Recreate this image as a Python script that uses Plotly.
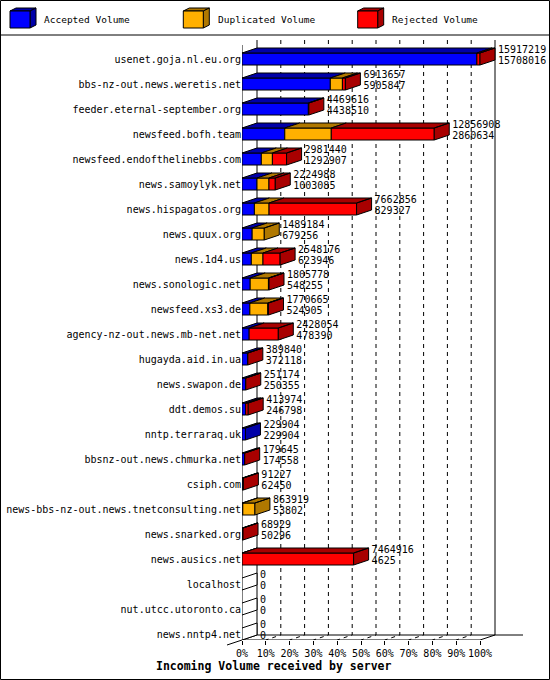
import plotly.graph_objects as go

# ---------------- data ----------------
servers = [
    "usenet.goja.nl.eu.org", "bbs-nz-out.news.weretis.net", "feeder.eternal-september.org",
    "newsfeed.bofh.team", "newsfeed.endofthelinebbs.com", "news.samoylyk.net",
    "news.hispagatos.org", "news.quux.org", "news.1d4.us", "news.sonologic.net",
    "newsfeed.xs3.de", "agency-nz-out.news.mb-net.net", "hugayda.aid.in.ua",
    "news.swapon.de", "ddt.demos.su", "nntp.terraraq.uk", "bbsnz-out.news.chmurka.net",
    "csiph.com", "news-bbs-nz-out.news.tnetconsulting.net", "news.snarked.org",
    "news.ausics.net", "localhost", "nut.utcc.utoronto.ca", "news.nntp4.net",
]
total_volume = [15917219, 6913657, 4469616, 12856908, 2981440, 2224988, 7662856, 1489184,
                2548176, 1805778, 1770665, 2428054, 389840, 251174, 413974, 229904,
                179645, 91227, 863919, 68929, 7464916, 0, 0, 0]
accepted_volume = [15708016, 5905847, 4438510, 2860634, 1292907, 1003085, 829327, 679256,
                   623946, 548255, 524905, 478390, 372118, 250355, 246798, 229904,
                   174558, 62450, 53802, 50296, 4625, 0, 0, 0]
duplicated_volume = [0, 810000, 0, 3110000, 740000, 800000, 980000, 809928,
                     780000, 1220000, 1200000, 0, 0, 0, 0, 0,
                     0, 0, 810117, 0, 0, 0, 0, 0]
rejected_volume = [209203, 197810, 31106, 6886274, 948533, 421903, 5853529, 0,
                   1144230, 37523, 45760, 1949664, 17722, 819, 167176, 0,
                   5087, 28777, 0, 18633, 7460291, 0, 0, 0]
pct_ticks = [0, 10, 20, 30, 40, 50, 60, 70, 80, 90, 100]
pct_labels = ["0%", "10%", "20%", "30%", "40%", "50%", "60%", "70%", "80%", "90%", "100%"]
series_names = ["Accepted Volume", "Duplicated Volume", "Rejected Volume"]

# ---------------- styling / geometry ----------------
W, H = 550, 680
L, R, T, B = 242, 5, 38, 40
PW, PH = W - L - R, H - T - B
PX_PER_PCT = 2.38
XMAX = PW / PX_PER_PCT
ROW_PX, ROW0 = 25, 59
Y_TOP = (T - ROW0) / ROW_PX
Y_BOT = (H - B - ROW0) / ROW_PX
DX = 15 / PX_PER_PCT
DY = 5 / ROW_PX
HALF = 6 / ROW_PX
GAP = 3 / PX_PER_PCT

FRONT = ["#0000FF", "#FFB000", "#FF0000"]
DARK = ["#0000A8", "#B07800", "#A80000"]
MONO = "DejaVu Sans Mono"


def yi(p):
    return (p - ROW0) / ROW_PX


def xi(p):
    return (p - L) / PX_PER_PCT


def px(xp):
    return (xp - L) / PW


def py(yp):
    return 1 - (yp - T) / PH


maxv = max(total_volume)
seg_vals = [accepted_volume, duplicated_volume, rejected_volume]
idx = list(range(len(servers)))

fig = go.Figure()

# front faces (bars)
bases = [0.0] * len(servers)
seg_ranges = []
for k, vals in enumerate(seg_vals):
    xs, bs, rng = [], [], []
    for i, v in enumerate(vals):
        p = v / maxv * 100
        xs.append(p if v > 0 else None)
        bs.append(bases[i])
        rng.append((bases[i], bases[i] + p, v > 0))
        bases[i] += p
    seg_ranges.append(rng)
    fig.add_trace(go.Bar(
        y=idx, x=xs, base=bs, orientation="h", width=2 * HALF,
        marker=dict(color=FRONT[k], line=dict(color="black", width=1)),
        name=series_names[k], showlegend=False, hoverinfo="skip",
    ))

# top and side faces (3D depth)
for k in range(3):
    px_, py_ = [], []
    for i in idx:
        x0, x1, on = seg_ranges[k][i]
        if not on:
            continue
        yt = i - HALF
        px_ += [x0, x1, x1 + DX, x0 + DX, x0, None]
        py_ += [yt, yt, yt - DY, yt - DY, yt, None]
    for i in idx:
        last = None
        for kk in range(3):
            if seg_ranges[kk][i][2]:
                last = kk
        if last != k:
            continue
        xe = seg_ranges[k][i][1]
        yt, yb = i - HALF, i + HALF
        px_ += [xe, xe + DX, xe + DX, xe, xe, None]
        py_ += [yt, yt - DY, yb - DY, yb, yt, None]
    fig.add_trace(go.Scatter(
        x=px_, y=py_, mode="lines", fill="toself", fillcolor=DARK[k],
        line=dict(color="black", width=1), showlegend=False, hoverinfo="skip",
    ))

# empty rows: degenerate depth face
zx, zy = [], []
for i in idx:
    if total_volume[i] == 0:
        yt, yb = i - HALF, i + HALF
        zx += [0, DX, DX, 0, 0, None]
        zy += [yt, yt - DY, yb - DY, yb, yt, None]
fig.add_trace(go.Scatter(x=zx, y=zy, mode="lines", fill="toself", fillcolor="white",
                         line=dict(color="black", width=1), showlegend=False, hoverinfo="skip"))

# value labels
label_x = [t / maxv * 100 + DX + GAP for t in total_volume]
fig.add_trace(go.Scatter(
    x=label_x, y=[i - 0.36 for i in idx],
    text=[str(t) for t in total_volume], mode="text", textposition="middle right",
    textfont=dict(family=MONO, size=10, color="black"), cliponaxis=False,
    showlegend=False, hoverinfo="skip"))
fig.add_trace(go.Scatter(
    x=label_x, y=[i + 0.08 for i in idx],
    text=[str(a) for a in accepted_volume], mode="text", textposition="middle right",
    textfont=dict(family=MONO, size=10, color="black"), cliponaxis=False,
    showlegend=False, hoverinfo="skip"))

shapes = []
y_back_top = yi(40)
y_front_top = yi(45)
y_back_floor = yi(635)
y_front_floor = yi(640)
for t in pct_ticks:
    solid = t in (0, 100)
    shapes.append(dict(
        type="path", xref="x", yref="y", layer="below",
        path=f"M {t + DX},{y_back_top} L {t + DX},{y_back_floor} L {t},{y_front_floor}",
        line=dict(color="black", width=1, dash="solid" if solid else "4px,4px"),
    ))
shapes.append(dict(type="line", xref="x", yref="y", layer="below", x0=0, x1=0,
                   y0=y_front_top, y1=y_front_floor, line=dict(color="black", width=1)))
shapes.append(dict(type="line", xref="x", yref="y", layer="below", x0=0, x1=100,
                   y0=y_front_floor, y1=y_front_floor, line=dict(color="black", width=1)))
shapes.append(dict(type="line", xref="x", yref="y", layer="below", x0=DX, x1=xi(523),
                   y0=y_back_floor, y1=y_back_floor, line=dict(color="black", width=1)))
shapes.append(dict(type="line", xref="paper", yref="paper", layer="below",
                   x0=px(227), x1=px(242), y0=py(645), y1=py(640),
                   line=dict(color="black", width=1)))

# legend cubes
for k, x0 in enumerate([10, 183.3, 357.7]):
    fx0, fx1, fy0, fy1 = x0, x0 + 20, 11, 28
    d, e = 6, 3
    shapes.append(dict(type="path", xref="paper", yref="paper",
                       path=f"M {px(fx0)},{py(fy0)} L {px(fx0 + d)},{py(fy0 - e)} L {px(fx1 + d)},{py(fy0 - e)} L {px(fx1)},{py(fy0)} Z",
                       fillcolor=DARK[k], line=dict(color="black", width=1)))
    shapes.append(dict(type="path", xref="paper", yref="paper",
                       path=f"M {px(fx1)},{py(fy0)} L {px(fx1 + d)},{py(fy0 - e)} L {px(fx1 + d)},{py(fy1 - e)} L {px(fx1)},{py(fy1)} Z",
                       fillcolor=DARK[k], line=dict(color="black", width=1)))
    shapes.append(dict(type="rect", xref="paper", yref="paper",
                       x0=px(fx0), x1=px(fx1), y0=py(fy0), y1=py(fy1),
                       fillcolor=FRONT[k], line=dict(color="black", width=1)))

shapes.append(dict(type="line", xref="paper", yref="paper", x0=px(0), x1=px(550),
                   y0=py(35), y1=py(35), line=dict(color="black", width=1)))
shapes.append(dict(type="rect", xref="paper", yref="paper", x0=px(0.5), x1=px(549.5),
                   y0=py(0.5), y1=py(679.5), line=dict(color="black", width=1)))

annotations = []
for k, x0 in enumerate([42.3, 216.3, 390.3]):
    annotations.append(dict(xref="paper", yref="paper", x=px(x0), y=py(20), text=series_names[k],
                            showarrow=False, xanchor="left", yanchor="middle",
                            font=dict(family=MONO, size=9.5, color="black")))
annotations.append(dict(xref="paper", yref="paper", x=px(273.5), y=py(666),
                        text="<b>Incoming Volume received by server</b>", showarrow=False,
                        xanchor="center", yanchor="middle",
                        font=dict(family=MONO, size=11.5, color="black")))

fig.update_layout(
    width=W, height=H, margin=dict(l=L, r=R, t=T, b=B),
    paper_bgcolor="white", plot_bgcolor="white",
    barmode="overlay", showlegend=False,
    shapes=shapes, annotations=annotations,
    xaxis=dict(range=[0, XMAX], tickvals=pct_ticks, ticktext=pct_labels,
               showgrid=False, zeroline=False, showline=False, ticks="outside",
               ticklen=4, tickcolor="black", tickfont=dict(family=MONO, size=10, color="black"),
               fixedrange=True),
    yaxis=dict(range=[Y_BOT, Y_TOP], tickvals=idx, ticktext=servers,
               showgrid=False, zeroline=False, showline=False, ticks="",
               tickfont=dict(family=MONO, size=10, color="black"), fixedrange=True),
)

fig.write_html(
    "out.html",
    config={"displayModeBar": False},
    post_script="document.body.style.margin='0';document.body.style.padding='0';",
)
